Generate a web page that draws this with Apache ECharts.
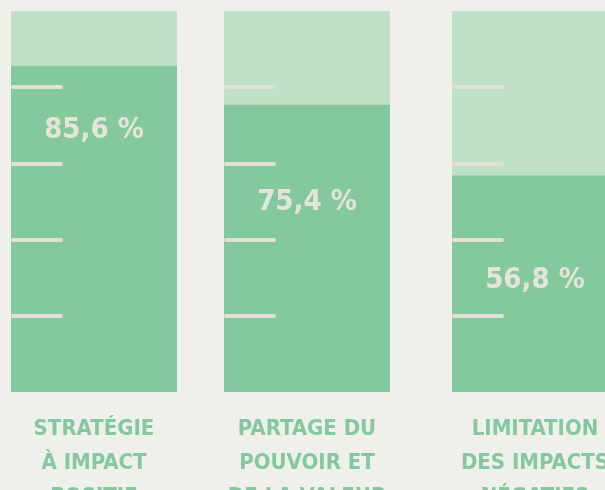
<!DOCTYPE html>
<html>
<head>
<meta charset="utf-8">
<title>Impact</title>
<script src="https://cdn.jsdelivr.net/npm/echarts@6/dist/echarts.min.js"></script>
<style>
    html, body { margin: 0; padding: 0; background: #f0f0eb; }
    #chart { width: 605px; height: 490px; }
</style>
</head>
<body>
<div id="chart"></div>
<script>
// data
const categories = ['STRATÉGIE\nÀ IMPACT\nPOSITIF', 'PARTAGE DU\nPOUVOIR ET\nDE LA VALEUR', 'LIMITATION\nDES IMPACTS\nNÉGATIFS'];
const values = [85.6, 75.4, 56.8];
const gaugeTicks = [20, 40, 60, 80];

// layout
const barLeft = [11, 224, 452];
const barWidth = 166;
const labelGap = [50, 83, 90];
const font = '"Liberation Sans Narrow", "Arial Narrow", "DejaVu Sans Condensed", sans-serif';

const fmt = v => v.toFixed(1).replace('.', ',') + ' %';

const grid = [], xAxis = [], yAxis = [], series = [];
values.forEach((v, i) => {
    grid.push({
        left: barLeft[i], top: 11, right: 605 - barLeft[i] - barWidth, bottom: 98,
        outerBoundsMode: 'none', containLabel: false
    });
    xAxis.push({
        type: 'category', gridIndex: i, data: [categories[i]],
        axisLine: { show: false }, axisTick: { show: false },
        axisLabel: {
            color: '#83c99d', fontFamily: font, fontWeight: 'bold',
            fontSize: 22, lineHeight: 34, margin: 20
        }
    });
    yAxis.push({
        type: 'value', gridIndex: i, min: 0, max: 100, interval: 20,
        offset: -2, z: 5,
        axisLabel: { show: false }, splitLine: { show: false }, axisLine: { show: false },
        axisTick: {
            show: true, inside: true, length: 48, customValues: gaugeTicks,
            lineStyle: { color: '#e2dfd8', width: 4, cap: 'round' }
        }
    });
    series.push({
        type: 'bar', xAxisIndex: i, yAxisIndex: i, data: [v],
        barWidth: '100%', silent: true,
        itemStyle: { color: '#83c99d' },
        showBackground: true, backgroundStyle: { color: '#bfe0c9' },
        label: {
            show: true, position: 'insideTop', distance: labelGap[i],
            formatter: p => fmt(p.value),
            color: '#e6e3dc', fontFamily: font, fontWeight: 'bold', fontSize: 29
        }
    });
});

const chart = echarts.init(document.getElementById('chart'));
chart.setOption({
    backgroundColor: '#f0f0eb',
    animation: false,
    grid, xAxis, yAxis, series
});
</script>
</body>
</html>
